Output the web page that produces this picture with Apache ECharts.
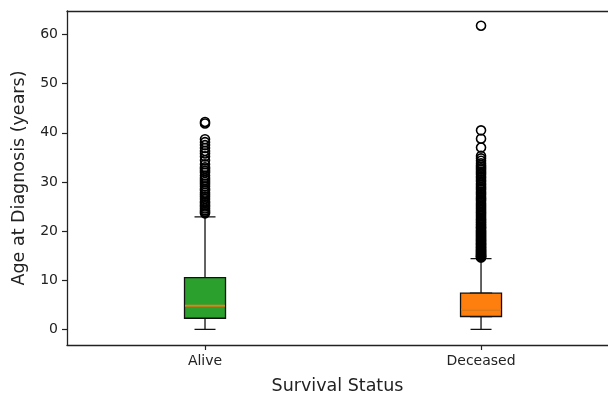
<!DOCTYPE html>
<html>
<head>
<meta charset="utf-8">
<script src="https://cdn.jsdelivr.net/npm/echarts@6/dist/echarts.min.js"></script>
<style>html,body{margin:0;padding:0;background:#fff;}#c{width:608px;height:400px;}</style>
</head>
<body>
<div id="c"></div>
<script>
// ---- data ----
const categories = ['Alive', 'Deceased'];
const positions = [1, 2];
// [min whisker, Q1, median, Q3, max whisker]
const aliveStats = [0, 2.25, 4.8, 10.5, 22.9];
const deceasedStats = [0, 2.6, 4.0, 7.35, 14.4];
const aliveOutliers = [23.6, 23.9, 24.2, 24.6, 25.0, 25.3, 25.7, 26.0, 26.5, 27.0, 27.4, 27.8, 28.3, 28.6,
  29.1, 29.6, 30.0, 30.4, 30.8, 31.3, 31.9, 32.3, 32.7, 33.0, 33.6, 34.4, 35.2, 35.8, 36.3, 36.9, 37.5,
  38.1, 38.7, 41.9, 42.2];
const deceasedOutliers = [14.6, 14.7, 14.8, 14.9, 15.0, 15.2, 15.3, 15.5, 15.6, 15.8, 15.9, 16.1, 16.2,
  16.4, 16.6, 16.7, 16.9, 17.1, 17.3, 17.4, 17.6, 17.8, 18.0, 18.2, 18.4, 18.6, 18.8, 19.0, 19.2, 19.4,
  19.6, 19.8, 20.0, 20.2, 20.5, 20.7, 20.9, 21.2, 21.4, 21.7, 21.9, 22.2, 22.4, 22.7, 23.0, 23.3, 23.6,
  23.9, 24.2, 24.5, 24.8, 25.1, 25.4, 25.7, 26.1, 26.4, 26.7, 27.0, 27.4, 27.7, 28.0, 28.4, 28.7, 29.0,
  29.4, 29.7, 30.1, 30.4, 30.8, 31.1, 31.5, 31.8, 32.1, 32.5, 32.8, 33.1, 33.4, 33.8, 34.3, 34.8, 35.3,
  37.0, 38.8, 40.5, 61.8];
const yTicks = [0, 10, 20, 30, 40, 50, 60];
const boxColors = ['#2ca02c', '#ff7f0e'];
const medianColor = '#e8801a';

// ---- build ----
const allStats = [aliveStats, deceasedStats];
const whiskerData = allStats.map((s, i) => [positions[i]].concat(s));
const boxData = allStats.map((s, i) => ({
  value: [positions[i], s[1], s[1], s[2], s[3], s[3]],
  itemStyle: { color: boxColors[i] }
}));
const medianData = allStats.map((s, i) => [positions[i], s[2]]);
const outlierData = aliveOutliers.map(v => [positions[0], v])
  .concat(deceasedOutliers.map(v => [positions[1], v]));

const font = 'DejaVu Sans';
const txt = '#222';
const lineCol = '#222';
const X_MIN = 0.5, X_MAX = 2.46;
const chart = echarts.init(document.getElementById('c'), null, { renderer: 'canvas' });
chart.setOption({
  animation: false,
  backgroundColor: '#fff',
  grid: { left: 67, right: 0, top: 11, bottom: 47 },
  xAxis: [{
    type: 'value', min: X_MIN, max: X_MAX, position: 'bottom',
    name: 'Survival Status', nameLocation: 'middle', nameGap: 32,
    nameTextStyle: { fontFamily: font, fontSize: 17.5, color: txt },
    axisLine: { show: true, onZero: false, lineStyle: { color: lineCol, width: 1.3 } },
    axisTick: { show: true, length: 5, customValues: positions, lineStyle: { color: lineCol, width: 1.2 } },
    axisLabel: { show: true, customValues: positions, margin: 9, fontFamily: font, fontSize: 14, color: txt,
      formatter: v => categories[positions.indexOf(v)] || '' },
    splitLine: { show: false }
  }, {
    type: 'value', min: X_MIN, max: X_MAX, position: 'top',
    axisLine: { show: true, onZero: false, lineStyle: { color: lineCol, width: 1.3 } },
    axisTick: { show: false }, axisLabel: { show: false }, splitLine: { show: false }
  }, {
    type: 'value', min: X_MIN, max: X_MAX, position: 'bottom', show: false,
    axisLine: { show: false, onZero: false }, splitLine: { show: false }
  }],
  yAxis: {
    type: 'value', min: -3.2, max: 64.8,
    name: 'Age at Diagnosis (years)', nameLocation: 'middle', nameGap: 39,
    nameTextStyle: { fontFamily: font, fontSize: 17.5, color: txt },
    axisLine: { show: true, onZero: false, lineStyle: { color: lineCol, width: 1.3 } },
    axisTick: { show: true, length: 5, customValues: yTicks, lineStyle: { color: lineCol, width: 1.2 } },
    axisLabel: { show: true, customValues: yTicks, margin: 9, fontFamily: font, fontSize: 14, color: txt },
    splitLine: { show: false }
  },
  series: [{
    type: 'boxplot', xAxisIndex: 0, data: whiskerData, boxWidth: [21, 21],
    encode: { x: 0, y: [1, 2, 3, 4, 5] },
    itemStyle: { color: 'rgba(0,0,0,0)', borderColor: '#111', borderWidth: 1.3 },
    emphasis: { disabled: true }
  }, {
    type: 'boxplot', xAxisIndex: 2, data: boxData, boxWidth: [41, 41],
    encode: { x: 0, y: [1, 2, 3, 4, 5] },
    itemStyle: { borderColor: '#111', borderWidth: 1.3 },
    emphasis: { disabled: true }
  }, {
    type: 'scatter', xAxisIndex: 0, data: medianData, symbol: 'rect', symbolSize: [40, 2],
    itemStyle: { color: medianColor, opacity: 1 }, z: 5, silent: true
  }, {
    type: 'scatter', xAxisIndex: 0, data: outlierData, symbol: 'circle', symbolSize: 9,
    itemStyle: { color: 'rgba(0,0,0,0)', borderColor: '#000', borderWidth: 1.6, opacity: 1 }, z: 4, silent: true
  }]
});
</script>
</body>
</html>
